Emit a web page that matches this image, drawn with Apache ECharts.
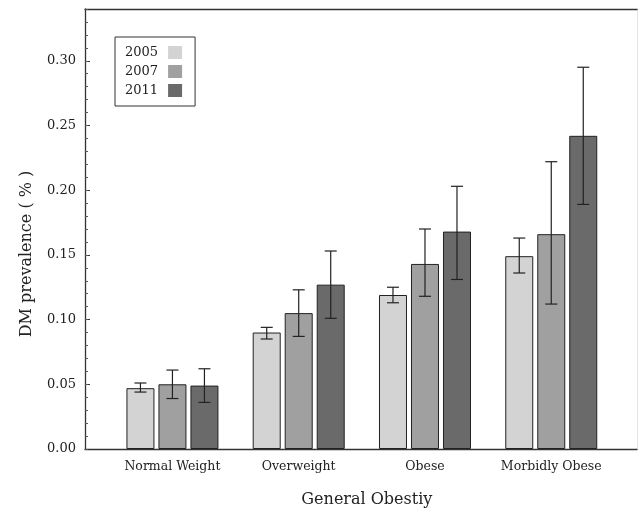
<!DOCTYPE html>
<html>
<head>
<meta charset="utf-8">
<script src="https://cdn.jsdelivr.net/npm/echarts@6/dist/echarts.min.js"></script>
<style>
  html, body { margin: 0; padding: 0; background: #fff; }
  #chart { width: 638px; height: 511px; }
</style>
</head>
<body>
<div id="chart"></div>
<script>
// data
const categories = ['Normal Weight', 'Overweight', 'Obese', 'Morbidly Obese'];
const years = ['2005', '2007', '2011'];
const mean2005 = [0.047, 0.090, 0.119, 0.149];
const mean2007 = [0.050, 0.105, 0.143, 0.166];
const mean2011 = [0.049, 0.127, 0.168, 0.242];
const low2005 = [0.044, 0.085, 0.113, 0.136];
const high2005 = [0.051, 0.094, 0.125, 0.163];
const low2007 = [0.039, 0.087, 0.118, 0.112];
const high2007 = [0.061, 0.123, 0.170, 0.222];
const low2011 = [0.036, 0.101, 0.131, 0.189];
const high2011 = [0.062, 0.153, 0.203, 0.295];
const yTicks = [0, 0.05, 0.10, 0.15, 0.20, 0.25, 0.30];

const colors = ['#d3d3d3', '#a0a0a0', '#6a6a6a'];
const font = 'DejaVu Serif';
const ink = '#222';
const barWidth = 28;
const barGapPx = 4;

const means = [mean2005, mean2007, mean2011];
const lows = [low2005, low2007, low2011];
const highs = [high2005, high2007, high2011];

const chart = echarts.init(document.getElementById('chart'), null, { renderer: 'canvas' });

function errorBarSeries(k) {
  const offset = (k - 1) * (barWidth + barGapPx);
  return {
    name: 'err' + years[k],
    type: 'custom',
    xAxisIndex: 2,
    yAxisIndex: 3,
    z: 5,
    data: categories.map((c, i) => [i, lows[k][i], highs[k][i]]),
    encode: { x: 0, y: [1, 2] },
    renderItem: function (params, api) {
      const i = api.value(0);
      const lo = api.coord([i, api.value(1)]);
      const hi = api.coord([i, api.value(2)]);
      const cx = lo[0] + offset;
      const cap = 6;
      const style = { stroke: ink, lineWidth: 1.2 };
      return {
        type: 'group',
        children: [
          { type: 'line', shape: { x1: cx, y1: lo[1], x2: cx, y2: hi[1] }, style: style },
          { type: 'line', shape: { x1: cx - cap, y1: lo[1], x2: cx + cap, y2: lo[1] }, style: style },
          { type: 'line', shape: { x1: cx - cap, y1: hi[1], x2: cx + cap, y2: hi[1] }, style: style }
        ]
      };
    }
  };
}

const barSeries = years.map((y, k) => ({
  name: y,
  type: 'bar',
  xAxisIndex: 2,
  yAxisIndex: 3,
  barWidth: barWidth,
  barGap: (barGapPx / barWidth * 100) + '%',
  data: means[k],
  itemStyle: { color: colors[k], borderColor: ink, borderWidth: 1 }
}));

const frameLine = { onZero: false, lineStyle: { color: '#333', width: 1.3 } };

const option = {
  animation: false,
  backgroundColor: '#fff',
  legend: {
    data: years,
    orient: 'vertical',
    left: 115,
    top: 37,
    align: 'right',
    icon: 'rect',
    itemWidth: 14,
    itemHeight: 13,
    itemGap: 6,
    padding: [9, 13, 9, 10],
    borderColor: '#333',
    borderWidth: 1,
    itemStyle: { borderWidth: 0 },
    textStyle: { fontFamily: font, fontSize: 13, color: ink, padding: [0, 5, 0, 0] }
  },
  grid: [
    // frame grid
    { left: 85, right: 1, top: 9, bottom: 62, outerBoundsMode: 'none' },
    // bar grid
    { left: 109.3, right: 23.6, top: 9, bottom: 62, outerBoundsMode: 'none' }
  ],
  xAxis: [
    {
      gridIndex: 0, type: 'value', min: 0, max: 1, position: 'bottom',
      axisLine: frameLine,
      axisTick: { show: false }, axisLabel: { show: false }, splitLine: { show: false }
    },
    {
      gridIndex: 0, type: 'value', min: 0, max: 1, position: 'top',
      axisLine: frameLine,
      axisTick: { show: false }, axisLabel: { show: false }, splitLine: { show: false }
    },
    {
      gridIndex: 1, type: 'category', data: categories, position: 'bottom',
      axisLine: { show: false }, axisTick: { show: false },
      axisLabel: { interval: 0, fontFamily: font, fontSize: 12.5, color: ink, margin: 11 },
      name: 'General Obestiy', nameLocation: 'middle', nameGap: 43,
      nameTextStyle: { fontFamily: font, fontSize: 16, color: ink, padding: [0, 0, 0, 10] }
    }
  ],
  yAxis: [
    {
      gridIndex: 0, type: 'value', min: 0, max: 0.34, interval: 0.05, position: 'left',
      axisLine: { show: true, onZero: false, lineStyle: { color: '#333', width: 1.3 } },
      axisTick: { show: true, inside: true, length: 5, lineStyle: { color: '#333' } },
      axisLabel: {
        fontFamily: font, fontSize: 13, color: ink, margin: 9, showMaxLabel: false,
        formatter: v => yTicks.some(t => Math.abs(t - v) < 1e-6) ? v.toFixed(2) : ''
      },
      splitLine: { show: false },
      name: 'DM prevalence ( % )', nameLocation: 'middle', nameGap: 50, nameRotate: 90,
      nameTextStyle: { fontFamily: font, fontSize: 16, color: ink, padding: [0, 50, 0, 0] }
    },
    {
      gridIndex: 0, type: 'value', min: 0, max: 0.34, interval: 0.01, position: 'left',
      axisLine: { show: false },
      axisTick: { show: true, inside: true, length: 3, lineStyle: { color: '#555' } },
      axisLabel: { show: false }, splitLine: { show: false }
    },
    {
      gridIndex: 0, type: 'value', min: 0, max: 0.34, position: 'right',
      axisLine: { show: true, onZero: false, lineStyle: { color: '#e4e4e4', width: 1 } },
      axisTick: { show: false }, axisLabel: { show: false }, splitLine: { show: false }
    },
    {
      gridIndex: 1, type: 'value', min: 0, max: 0.34, show: false
    }
  ],
  series: barSeries.concat(years.map((y, k) => errorBarSeries(k)))
};

chart.setOption(option);
</script>
</body>
</html>
